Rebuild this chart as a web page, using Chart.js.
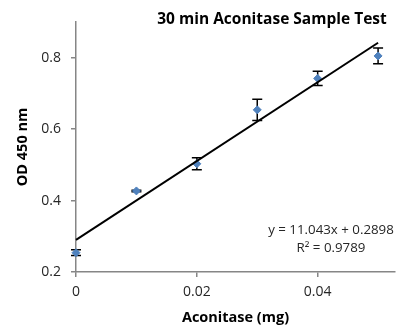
<!DOCTYPE html>
<html>
<head>
<meta charset="utf-8">
<script src="https://cdn.jsdelivr.net/npm/chart.js@4.4.1/dist/chart.umd.min.js"></script>
<style>
    html, body { margin: 0; padding: 0; background: #fff; }
    #wrap { width: 400px; height: 327px; position: relative; }
</style>
</head>
<body>
<div id="wrap"><canvas id="myChart"></canvas></div>
<script>
// data
var amounts = [0, 0.01, 0.02, 0.03, 0.04, 0.05];
var od450 = [0.254, 0.427, 0.503, 0.654, 0.742, 0.805];
var odError = [0.008, 0.002, 0.017, 0.030, 0.020, 0.022];
var trendX = [0, 0.05];
var trendY = [0.2898, 0.8420];
var xTicks = [0, 0.02, 0.04];
var yTicks = [0.2, 0.4, 0.6, 0.8];
var titleText = '30 min Aconitase Sample Test';
var eqText = 'y = 11.043x + 0.2898';
var r2Text = 'R\u00b2 = 0.9789';

var FONT = '"Open Sans", sans-serif';
var axisGrey = '#868686';
var textCol = '#262626';

var errorBars = {
    id: 'errorBars',
    beforeDatasetsDraw(chart) {
        var ctx = chart.ctx;
        var xs = chart.scales.x, ys = chart.scales.y;
        ctx.save();
        ctx.strokeStyle = '#000';
        ctx.lineWidth = 1.5;
        amounts.forEach(function (a, i) {
            var px = xs.getPixelForValue(a);
            var top = ys.getPixelForValue(od450[i] + odError[i]);
            var bot = ys.getPixelForValue(od450[i] - odError[i]);
            ctx.beginPath();
            ctx.moveTo(px, top); ctx.lineTo(px, bot);
            ctx.moveTo(px - 5, top); ctx.lineTo(px + 5, top);
            ctx.moveTo(px - 5, bot); ctx.lineTo(px + 5, bot);
            ctx.stroke();
        });
        ctx.restore();
    }
};

var labels = {
    id: 'labels',
    afterDraw(chart) {
        var ctx = chart.ctx;
        ctx.save();
        ctx.fillStyle = '#000';
        ctx.textAlign = 'center';
        ctx.textBaseline = 'middle';
        ctx.font = 'bold 15.5px ' + FONT;
        ctx.fillText(titleText, 272, 20);
        ctx.fillStyle = textCol;
        ctx.font = '13.3px ' + FONT;
        ctx.fillText(eqText, 331, 230);
        ctx.fillText(r2Text, 331, 248);
        ctx.restore();
    }
};

var ctx = document.getElementById('myChart').getContext('2d');
var chart = new Chart(ctx, {
    type: 'scatter',
    data: {
        datasets: [
            {
                label: 'trend',
                type: 'line',
                data: trendX.map(function (x, i) { return { x: x, y: trendY[i] }; }),
                borderColor: '#000',
                borderWidth: 2,
                pointRadius: 0,
                clip: false,
                order: 0
            },
            {
                label: 'OD',
                data: amounts.map(function (x, i) { return { x: x, y: od450[i] }; }),
                pointStyle: 'rectRot',
                pointRadius: 4,
                backgroundColor: '#4F81BD',
                borderColor: '#4F81BD',
                clip: false,
                order: 1
            }
        ]
    },
    options: {
        responsive: true,
        maintainAspectRatio: false,
        animation: false,
        layout: { padding: { top: 22, right: 0, left: 0, bottom: 0 } },
        plugins: { legend: { display: false }, tooltip: { enabled: false } },
        scales: {
            x: {
                type: 'linear',
                min: 0,
                max: 0.0528,
                afterBuildTicks: function (s) { s.ticks = xTicks.map(function (v) { return { value: v }; }); },
                afterFit: function (s) { s.height = 55; },
                grid: { drawOnChartArea: false, tickLength: 5, color: axisGrey, lineWidth: 1.5 },
                border: { color: axisGrey, width: 1.5 },
                ticks: { color: textCol, padding: 7, font: { family: FONT, size: 14 }, maxRotation: 0,
                    callback: function (v) { return String(+v.toFixed(2)); } },
                title: { display: true, text: 'Aconitase (mg)', color: '#000', padding: { top: 0, bottom: 0 },
                    font: { family: FONT, size: 14.5, weight: 'bold' } }
            },
            y: {
                min: 0.2,
                max: 0.9,
                afterBuildTicks: function (s) { s.ticks = yTicks.map(function (v) { return { value: v }; }); },
                afterFit: function (s) { s.width = 76; },
                grid: { drawOnChartArea: false, tickLength: 5, color: axisGrey, lineWidth: 1.5 },
                border: { color: axisGrey, width: 1.5 },
                ticks: { color: textCol, padding: 10, font: { family: FONT, size: 14 },
                    callback: function (v) { return String(+v.toFixed(1)); } },
                title: { display: true, text: 'OD 450 nm', color: '#000', padding: { top: 14, bottom: 0 },
                    font: { family: FONT, size: 14.5, weight: 'bold' } }
            }
        }
    },
    plugins: [errorBars, labels]
});
</script>
</body>
</html>
